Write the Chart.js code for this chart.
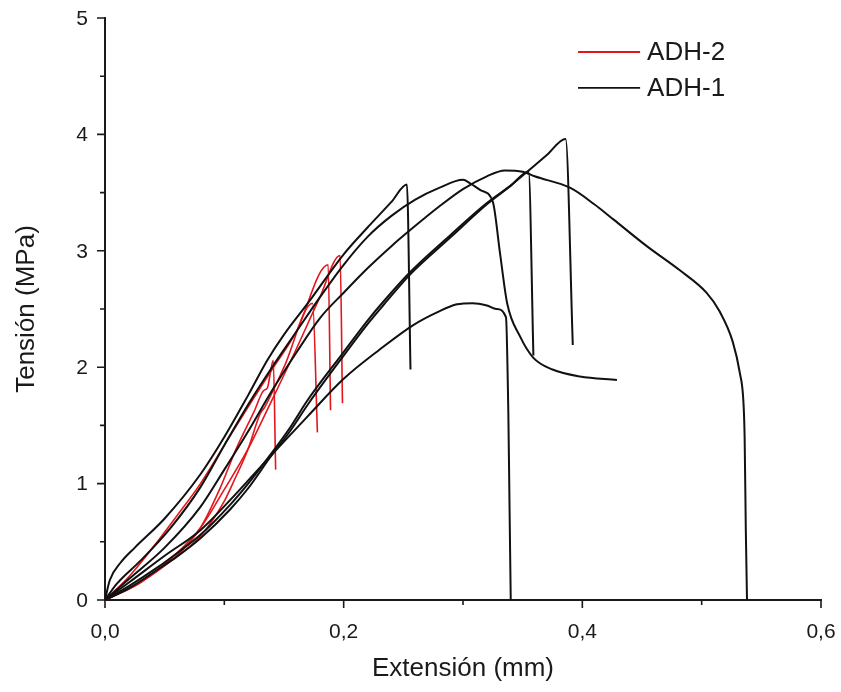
<!DOCTYPE html>
<html>
<head>
<meta charset="utf-8">
<script src="https://cdn.jsdelivr.net/npm/chart.js@4.4.1/dist/chart.umd.min.js"></script>
<style>
  html, body { margin: 0; padding: 0; background: #fff; }
  #wrap { width: 841px; height: 692px; position: relative; }
</style>
</head>
<body>
<div id="wrap"><canvas id="c" width="841" height="692"></canvas></div>
<script>
// Stress–extension curves, [extension (mm), stress (MPa)]
const adh1_a = [[0,0],[0.004,0.17],[0.013,0.32],[0.025,0.45],[0.05,0.7],[0.08,1.08],[0.1,1.4],[0.12,1.76],[0.136,2.06],[0.15,2.28],[0.17,2.55],[0.2,2.97],[0.22,3.2],[0.24,3.42],[0.253,3.57],[0.256,1.98]];
const adh1_b = [[0,0],[0.01,0.14],[0.03,0.34],[0.055,0.62],[0.08,0.97],[0.1,1.33],[0.12,1.68],[0.14,2.0],[0.16,2.3],[0.18,2.6],[0.2,2.88],[0.22,3.12],[0.24,3.3],[0.26,3.44],[0.28,3.54],[0.3,3.61],[0.306,3.58],[0.315,3.52],[0.325,3.42],[0.331,2.98],[0.337,2.55],[0.348,2.26],[0.359,2.08],[0.375,1.98],[0.398,1.92],[0.429,1.89]];
const adh1_c = [[0,0],[0.02,0.18],[0.05,0.45],[0.08,0.8],[0.1,1.12],[0.12,1.45],[0.14,1.8],[0.16,2.12],[0.18,2.42],[0.2,2.64],[0.22,2.85],[0.24,3.04],[0.256,3.18],[0.28,3.38],[0.3,3.53],[0.32,3.64],[0.335,3.69],[0.35,3.68],[0.36,3.64],[0.39,3.54],[0.41,3.4],[0.426,3.27],[0.454,3.04],[0.482,2.83],[0.504,2.64],[0.515,2.48],[0.526,2.22],[0.532,1.95],[0.535,1.7],[0.536,1.4],[0.537,0.6],[0.538,0]];
const adh1_d = [[0,0],[0.02,0.12],[0.044,0.28],[0.06,0.4],[0.08,0.56],[0.105,0.82],[0.12,1.0],[0.138,1.24],[0.155,1.48],[0.17,1.72],[0.2,2.13],[0.22,2.4],[0.233,2.56],[0.256,2.82],[0.29,3.14],[0.32,3.41],[0.34,3.56],[0.355,3.68],[0.359,2.1]];
const adh1_e = [[0,0],[0.02,0.1],[0.044,0.26],[0.06,0.37],[0.08,0.53],[0.105,0.78],[0.12,0.96],[0.138,1.22],[0.155,1.45],[0.17,1.68],[0.2,2.1],[0.22,2.37],[0.233,2.53],[0.256,2.8],[0.29,3.12],[0.32,3.4],[0.34,3.56],[0.355,3.69],[0.37,3.82],[0.386,3.96],[0.392,2.19]];
const adh1_f = [[0,0],[0.02,0.15],[0.05,0.38],[0.08,0.6],[0.105,0.86],[0.138,1.23],[0.17,1.58],[0.2,1.9],[0.23,2.15],[0.258,2.36],[0.28,2.48],[0.295,2.54],[0.308,2.55],[0.32,2.53],[0.328,2.5],[0.336,2.43],[0.338,1.6],[0.339,0.8],[0.34,0]];

const adh2_a = [[0,0],[0.02,0.1],[0.04,0.22],[0.06,0.38],[0.08,0.62],[0.096,0.95],[0.11,1.3],[0.125,1.62],[0.133,1.8],[0.136,1.82],[0.141,2.06],[0.143,1.12]];
const adh2_b = [[0,0],[0.02,0.1],[0.05,0.3],[0.08,0.55],[0.1,0.85],[0.107,1.0],[0.12,1.3],[0.13,1.6],[0.134,1.66],[0.15,2.0],[0.174,2.55],[0.178,1.44]];
const adh2_c = [[0,0],[0.02,0.2],[0.04,0.45],[0.06,0.72],[0.08,1.0],[0.1,1.33],[0.12,1.66],[0.14,1.98],[0.16,2.3],[0.187,2.88],[0.189,1.63]];
const adh2_d = [[0,0],[0.03,0.15],[0.06,0.4],[0.08,0.62],[0.1,0.95],[0.12,1.3],[0.14,1.72],[0.16,2.15],[0.18,2.6],[0.197,2.96],[0.199,1.69]];

const seriesNames = ['ADH-2', 'ADH-1'];
const seriesColors = ['#e3161c', '#111111'];
const adh1Curves = [adh1_a, adh1_b, adh1_c, adh1_d, adh1_e, adh1_f];
const adh2Curves = [adh2_a, adh2_b, adh2_c, adh2_d];

const xTickValues = [0, 0.1, 0.2, 0.3, 0.4, 0.5, 0.6];
const xTickLabels = ['0,0', '', '0,2', '', '0,4', '', '0,6'];
const yTickValues = [0, 0.5, 1, 1.5, 2, 2.5, 3, 3.5, 4, 4.5, 5];
const yTickLabels = ['0', '', '1', '', '2', '', '3', '', '4', '', '5'];

const FONT = '"Liberation Sans", Arial, sans-serif';
const INK = '#1a1a1a';

function toPoints(arr) { return arr.map(p => ({ x: p[0], y: p[1] })); }

const datasets = [];
adh1Curves.forEach(c => datasets.push({
  label: seriesNames[1], data: toPoints(c), borderColor: seriesColors[1],
  borderWidth: 2, pointRadius: 0, cubicInterpolationMode: 'monotone', fill: false
}));
adh2Curves.forEach(c => datasets.push({
  label: seriesNames[0], data: toPoints(c), borderColor: seriesColors[0],
  borderWidth: 1.6, pointRadius: 0, cubicInterpolationMode: 'monotone', fill: false
}));

// Outward major/minor tick marks, tick labels and the inset legend
const decorations = {
  id: 'decorations',
  afterDraw(chart) {
    const { ctx, scales: { x, y } } = chart;
    ctx.save();
    ctx.strokeStyle = INK;
    ctx.lineWidth = 1.6;
    ctx.beginPath();
    xTickValues.forEach((v, i) => {
      const px = x.getPixelForValue(v);
      const len = xTickLabels[i] ? 8 : 5;
      ctx.moveTo(px, y.bottom);
      ctx.lineTo(px, y.bottom + len);
    });
    yTickValues.forEach((v, i) => {
      const py = y.getPixelForValue(v);
      const len = yTickLabels[i] ? 8 : 5;
      ctx.moveTo(x.left, py);
      ctx.lineTo(x.left - len, py);
    });
    ctx.stroke();

    ctx.fillStyle = INK;
    ctx.font = '21px ' + FONT;
    ctx.textBaseline = 'middle';
    ctx.textAlign = 'center';
    xTickValues.forEach((v, i) => {
      if (xTickLabels[i]) ctx.fillText(xTickLabels[i], x.getPixelForValue(v), y.bottom + 32);
    });
    ctx.textAlign = 'right';
    yTickValues.forEach((v, i) => {
      if (yTickLabels[i]) ctx.fillText(yTickLabels[i], x.left - 17, y.getPixelForValue(v) + 1);
    });

    // legend
    const lx0 = x.getPixelForValue(0.3964), lx1 = x.getPixelForValue(0.4484);
    const rows = [y.getPixelForValue(4.708), y.getPixelForValue(4.399)];
    ctx.font = '26px ' + FONT;
    ctx.textAlign = 'left';
    seriesNames.forEach((name, i) => {
      ctx.strokeStyle = seriesColors[i];
      ctx.lineWidth = 1.8;
      ctx.beginPath();
      ctx.moveTo(lx0, rows[i]);
      ctx.lineTo(lx1, rows[i]);
      ctx.stroke();
      ctx.fillStyle = INK;
      ctx.fillText(name, lx1 + 7, rows[i] + 1);
    });
    ctx.restore();
  }
};

new Chart(document.getElementById('c'), {
  type: 'line',
  data: { datasets },
  options: {
    responsive: false,
    animation: false,
    layout: { padding: { top: 18, right: 20, left: 0, bottom: 0 } },
    plugins: { legend: { display: false }, tooltip: { enabled: false } },
    scales: {
      x: {
        type: 'linear', min: 0, max: 0.6,
        afterFit(s) { s.height = 92; },
        grid: { display: false, drawTicks: false },
        border: { display: true, color: INK, width: 2 },
        ticks: { display: false },
        title: {
          display: true, text: 'Extensión (mm)', color: INK,
          font: { family: FONT, size: 26 }, padding: { top: 0, bottom: 8 }
        }
      },
      y: {
        type: 'linear', min: 0, max: 5,
        afterFit(s) { s.width = 105; },
        grid: { display: false, drawTicks: false },
        border: { display: true, color: INK, width: 2 },
        ticks: { display: false },
        title: {
          display: true, text: 'Tensión (MPa)', color: INK,
          font: { family: FONT, size: 26 }, padding: { top: 11, bottom: 0 }
        }
      }
    }
  },
  plugins: [decorations]
});
</script>
</body>
</html>
